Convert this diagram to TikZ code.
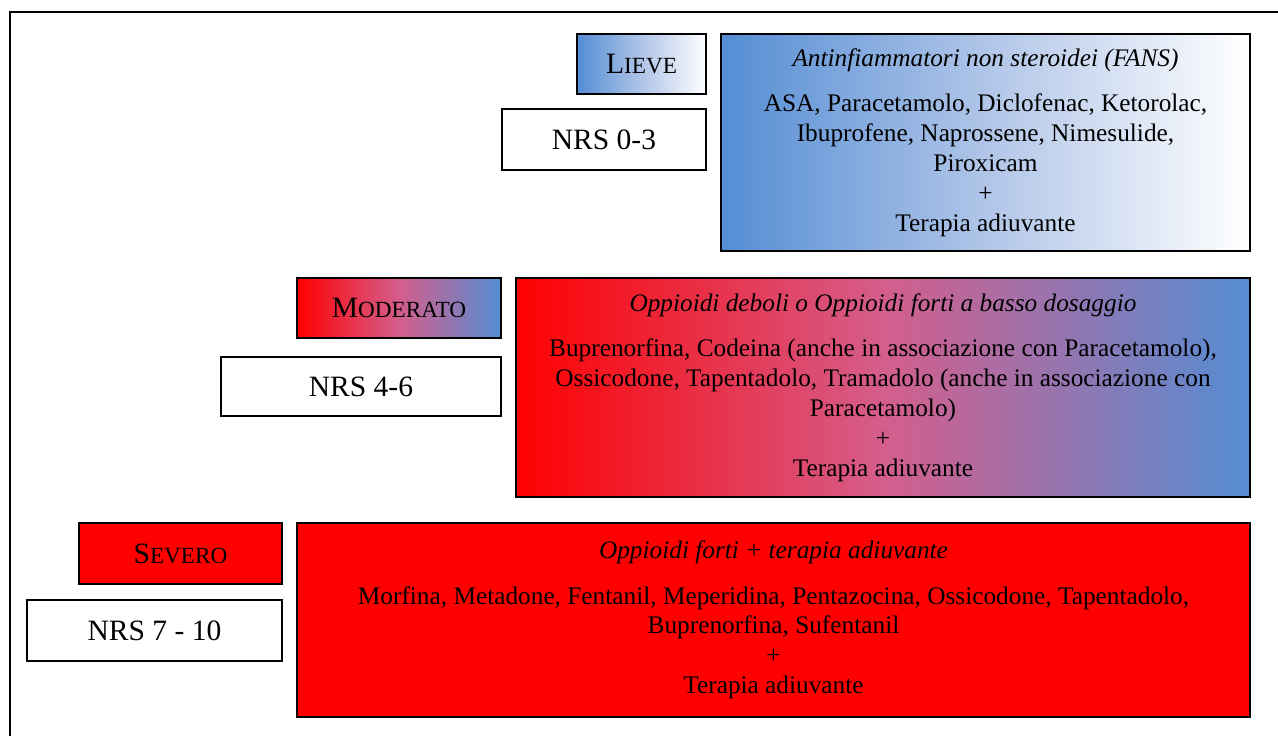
\documentclass[tikz,border=0pt]{standalone}
\usepackage{fontspec}
\setmainfont{Liberation Serif}
\usetikzlibrary{shadows}

\newdimen\pxu
\pxu=0.025cm
\definecolor{lieveblue}{RGB}{84,141,212}
\definecolor{lievemid}{RGB}{176,197,232}
\definecolor{severed}{RGB}{255,0,0}
\definecolor{moderatomid}{RGB}{212,94,140}
\newcommand{\fakesc}[2]{#1{\fontsize{16.5}{16.5}\selectfont #2}}

\tikzset{
	painscale/.style={
			x=1\pxu, y=-1\pxu,
			every node/.style={draw, inner sep=0pt, outer sep=0pt, line width=0.9pt, anchor=north west, align=center,
					drop shadow={shadow xshift=0.8pt, shadow yshift=-0.8pt, fill=black!55, opacity=1}},
			levelbox/.style={font=\fontsize{21}{25}\selectfont},
			nrsbox/.style={fill=white, font=\fontsize{21}{25}\selectfont},
			drugbox/.style={font=\fontsize{18}{21.3}\selectfont},
			bluefade/.style={left color=lieveblue, right color=white, middle color=lievemid},
			redblue/.style={left color=severed, right color=lieveblue, middle color=moderatomid},
		}
}

\begin{document}
\begin{tikzpicture}[painscale]
	\useasboundingbox (0,0) rectangle (1278,736);
	\fill[white] (0,0) rectangle (1278,736);
	\draw[line width=1.4pt] (10,740) -- (10,12) -- (1282,12);

	% lieve
	\node[levelbox, bluefade, minimum width=129\pxu, minimum height=60\pxu] (lieve) at (577,34) {\fakesc{L}{IEVE}};
	\node[nrsbox, minimum width=204\pxu, minimum height=61\pxu] (nrsA) at (502,109) {NRS 0-3};
	\node[drugbox, bluefade, minimum width=529\pxu, minimum height=217\pxu] (fans) at (721,34) {%
		{\itshape Antinfiammatori non steroidei (FANS)}\\[11pt]
		ASA, Paracetamolo, Diclofenac, Ketorolac,\\
		Ibuprofene, Naprossene, Nimesulide,\\
		Piroxicam\\
		+\\
		Terapia adiuvante};

	% moderato
	\node[levelbox, redblue, minimum width=204\pxu, minimum height=60\pxu] (moderato) at (297,278) {\fakesc{M}{ODERATO}};
	\node[nrsbox, minimum width=280\pxu, minimum height=59\pxu] (nrsB) at (221,357) {NRS 4-6};
	\node[drugbox, redblue, minimum width=734\pxu, minimum height=219\pxu] (deboli) at (516,278) {%
		{\itshape Oppioidi deboli o Oppioidi forti a basso dosaggio}\\[11pt]
		Buprenorfina, Codeina (anche in associazione con Paracetamolo),\\
		Ossicodone, Tapentadolo, Tramadolo (anche in associazione con\\
		Paracetamolo)\\
		+\\
		Terapia adiuvante};

	% severo
	\node[levelbox, fill=severed, minimum width=203\pxu, minimum height=61\pxu] (severo) at (79,523) {\fakesc{S}{EVERO}};
	\node[nrsbox, minimum width=255\pxu, minimum height=61\pxu] (nrsC) at (27,600) {NRS 7 - 10};
	\node[drugbox, fill=severed, minimum width=953\pxu, minimum height=194\pxu] (forti) at (297,523) {%
		{\itshape Oppioidi forti + terapia adiuvante}\\[11pt]
		Morfina, Metadone, Fentanil, Meperidina, Pentazocina, Ossicodone, Tapentadolo,\\
		Buprenorfina, Sufentanil\\
		+\\
		Terapia adiuvante};
\end{tikzpicture}
\end{document}
